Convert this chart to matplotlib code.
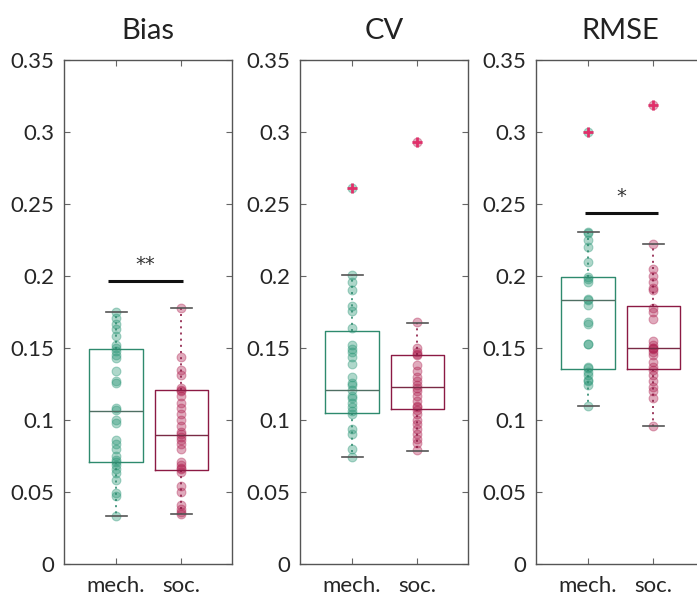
import matplotlib
matplotlib.use("Agg")
import matplotlib.pyplot as plt

plt.rcParams['font.family'] = ['Lato', 'DejaVu Sans']

titles = ["Bias", "CV", "RMSE"]
groups = ["mech.", "soc."]

# individual values
bias_mech = [0.033, 0.047, 0.049, 0.058, 0.063, 0.066, 0.069, 0.071, 0.072, 0.075,
             0.080, 0.083, 0.086, 0.098, 0.100, 0.107, 0.108, 0.126, 0.127, 0.134,
             0.143, 0.145, 0.148, 0.150, 0.152, 0.158, 0.163, 0.167, 0.171, 0.175]
bias_soc = [0.035, 0.036, 0.038, 0.041, 0.050, 0.054, 0.064, 0.066, 0.067, 0.069,
            0.071, 0.080, 0.083, 0.086, 0.088, 0.090, 0.092, 0.096, 0.100, 0.104,
            0.108, 0.112, 0.117, 0.120, 0.121, 0.122, 0.131, 0.135, 0.144, 0.178]
cv_mech = [0.0745, 0.080, 0.090, 0.094, 0.104, 0.106, 0.109, 0.112, 0.115, 0.117,
           0.121, 0.124, 0.126, 0.130, 0.139, 0.144, 0.147, 0.149, 0.152, 0.164,
           0.176, 0.179, 0.190, 0.196, 0.201, 0.261]
cv_soc = [0.079, 0.084, 0.087, 0.090, 0.094, 0.097, 0.100, 0.104, 0.107, 0.109,
          0.110, 0.113, 0.117, 0.120, 0.122, 0.124, 0.127, 0.130, 0.134, 0.138,
          0.145, 0.146, 0.147, 0.150, 0.168, 0.293]
rmse_mech = [0.110, 0.124, 0.127, 0.128, 0.131, 0.133, 0.136, 0.137, 0.153, 0.153,
             0.167, 0.168, 0.180, 0.183, 0.184, 0.196, 0.198, 0.1995, 0.210, 0.220,
             0.225, 0.2296, 0.2308, 0.300]
rmse_soc = [0.096, 0.115, 0.120, 0.123, 0.127, 0.131, 0.135, 0.137, 0.140, 0.145,
            0.147, 0.149, 0.150, 0.150, 0.152, 0.155, 0.170, 0.175, 0.178, 0.190,
            0.192, 0.196, 0.200, 0.205, 0.222, 0.319]

points = [[bias_mech, bias_soc], [cv_mech, cv_soc], [rmse_mech, rmse_soc]]

# box statistics: [mech, soc]
q1 = [[0.071, 0.065], [0.1046, 0.1074], [0.1357, 0.1354]]
med = [[0.106, 0.0896], [0.1208, 0.1227], [0.1833, 0.150]]
q3 = [[0.149, 0.121], [0.162, 0.145], [0.1995, 0.179]]
whislo = [[0.033, 0.035], [0.0745, 0.0787], [0.1097, 0.0958]]
whishi = [[0.175, 0.178], [0.201, 0.1676], [0.2308, 0.222]]
outliers = [[[], []], [[0.261], [0.293]], [[0.300], [0.319]]]

# significance annotations
sig_text = ["**", None, "*"]
sig_y = [0.1965, None, 0.2437]
sig_x = [(0.88, 2.02), None, (0.95, 2.07)]

box_colors = ["#2e8a6e", "#8c1a44"]
pt_colors = ["#2a9676", "#b02352"]
med_colors = ["#4f6f63", "#7a2a45"]

fig = plt.figure(figsize=(6.97, 5.98), dpi=100)
lefts = [64, 300, 536]
W, H = 697.0, 598.0
for i in range(3):
    ax = fig.add_axes([lefts[i] / W, 1 - 564 / H, 168 / W, 504 / H])
    stats = []
    for j in range(2):
        stats.append(dict(q1=q1[i][j], med=med[i][j], q3=q3[i][j],
                          whislo=whislo[i][j], whishi=whishi[i][j],
                          fliers=outliers[i][j], label=groups[j]))
    # points
    for j in range(2):
        xs = [j + 1] * len(points[i][j])
        ax.scatter(xs, points[i][j], s=40, color=pt_colors[j], alpha=0.38,
                   edgecolors=pt_colors[j], linewidths=0.8, zorder=2)
    for j in range(2):
        ax.bxp([stats[j]], positions=[j + 1], widths=0.82, showfliers=True,
               boxprops=dict(color=box_colors[j], linewidth=1.0),
               medianprops=dict(color=med_colors[j], linewidth=1.0),
               whiskerprops=dict(color=box_colors[j], linewidth=1.2, linestyle=(0, (1.2, 2.5))),
               capprops=dict(color="#555555", linewidth=1.2),
               capwidths=0.32,
               flierprops=dict(marker='+', markeredgecolor="#e0306a", markersize=7,
                               markeredgewidth=2.0),
               manage_ticks=False)
    if sig_text[i]:
        ax.plot(list(sig_x[i]), [sig_y[i], sig_y[i]], color="#111111", lw=2.2,
                solid_capstyle='butt', zorder=4)
        ax.text(sum(sig_x[i]) / 2, sig_y[i] + 0.005, sig_text[i], ha='center',
                va='bottom', fontsize=14, color="#333333", family=['DejaVu Sans'])
    ax.set_xlim(0.2, 2.78)
    ax.set_ylim(0, 0.35)
    ax.set_xticks([1, 2])
    ax.set_xticklabels(groups)
    ax.set_yticks([0, 0.05, 0.1, 0.15, 0.2, 0.25, 0.3, 0.35])
    ax.set_yticklabels(["0", "0.05", "0.1", "0.15", "0.2", "0.25", "0.3", "0.35"])
    ax.tick_params(direction='in', top=True, right=True, length=4, width=0.8,
                   colors="#666666", labelcolor="#262626", labelsize=16, pad=7)
    ax.tick_params(axis='x', pad=9)
    for sp in ax.spines.values():
        sp.set_color("#555555")
        sp.set_linewidth(1.0)
    ax.set_title(titles[i], fontsize=21, color="#222222", pad=15)

fig.savefig("out.png", dpi=100)
